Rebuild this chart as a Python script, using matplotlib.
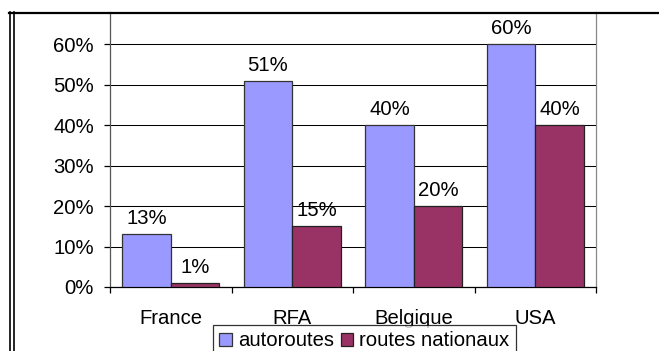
import matplotlib
matplotlib.use("Agg")
import matplotlib.pyplot as plt
import numpy as np
from matplotlib.lines import Line2D
from matplotlib.ticker import FuncFormatter, FixedLocator

plt.rcParams['font.family'] = ['Liberation Sans', 'DejaVu Sans']

categories = ["France", "RFA", "Belgique", "USA"]
autoroutes = [13, 51, 40, 60]
routes_nationaux = [1, 15, 20, 40]
series_names = ["autoroutes", "routes nationaux"]
yticks = [0, 10, 20, 30, 40, 50, 60]

W, H = 659, 351
dpi = 100
fig = plt.figure(figsize=(W / dpi, H / dpi), dpi=dpi)
fig.patch.set_facecolor('white')

def fx(px):
    return px / W

def fy(py):
    return 1 - py / H

ax = fig.add_axes([fx(110), fy(287), fx(596) - fx(110), fy(12) - fy(287)])
ax.set_facecolor('white')

x = np.arange(len(categories))
bw = 0.4
fs = 14.6
b1 = ax.bar(x - bw / 2, autoroutes, bw, color='#9999FF', edgecolor='#333333', linewidth=0.9,
            label=series_names[0], zorder=3)
b2 = ax.bar(x + bw / 2, routes_nationaux, bw, color='#993366', edgecolor='#222222', linewidth=0.9,
            label=series_names[1], zorder=3)

for bars, vals in ((b1, autoroutes), (b2, routes_nationaux)):
    for rect, v in zip(bars, vals):
        ax.annotate(f"{v}%", (rect.get_x() + rect.get_width() / 2, v),
                    xytext=(0, 7.2), textcoords='offset points',
                    ha='center', va='baseline', fontsize=fs, color='black', zorder=5)

ax.set_xlim(-0.5, len(categories) - 0.5)
ax.set_ylim(0, 68)
ax.set_yticks(yticks)
ax.yaxis.set_major_formatter(FuncFormatter(lambda v, p: f"{int(v)}%"))
ax.grid(axis='y', color='black', linewidth=0.75, zorder=1)
ax.set_axisbelow(True)

ax.set_xticks(x)
ax.set_xticklabels(categories, fontsize=fs)
ax.xaxis.set_minor_locator(FixedLocator(np.arange(len(categories) + 1) - 0.5))
ax.tick_params(axis='x', which='major', length=0, pad=15.5)
ax.tick_params(axis='x', which='minor', length=4.5, width=0.9, color='black', direction='out')
ax.tick_params(axis='y', length=4.5, width=0.9, color='black', direction='out', pad=7, labelsize=fs)

ax.spines['top'].set_visible(False)
ax.spines['left'].set_color('#555555')
ax.spines['right'].set_color('#888888')
ax.spines['bottom'].set_color('black')
for s in ax.spines.values():
    s.set_linewidth(0.9)

leg = fig.legend(handles=[b1, b2], labels=series_names, loc='upper left',
                 bbox_to_anchor=(fx(213), fy(325)), ncol=2, fontsize=fs,
                 frameon=True, fancybox=False, shadow=False, borderaxespad=0,
                 handlelength=0.6, handleheight=0.6, handletextpad=0.3,
                 columnspacing=0.35, borderpad=0.32)
leg.get_frame().set_edgecolor('black')
leg.get_frame().set_linewidth(0.9)
leg.set_zorder(10)

# Document frame lines
fig.add_artist(Line2D([fx(9), fx(659)], [fy(12.5), fy(12.5)], color='black', linewidth=1.6,
                      transform=fig.transFigure))
for xx in (9.5, 13.5):
    fig.add_artist(Line2D([fx(xx), fx(xx)], [fy(12), fy(351)], color='black', linewidth=1.2,
                          transform=fig.transFigure))

fig.savefig("out.png", dpi=dpi, facecolor='white')
